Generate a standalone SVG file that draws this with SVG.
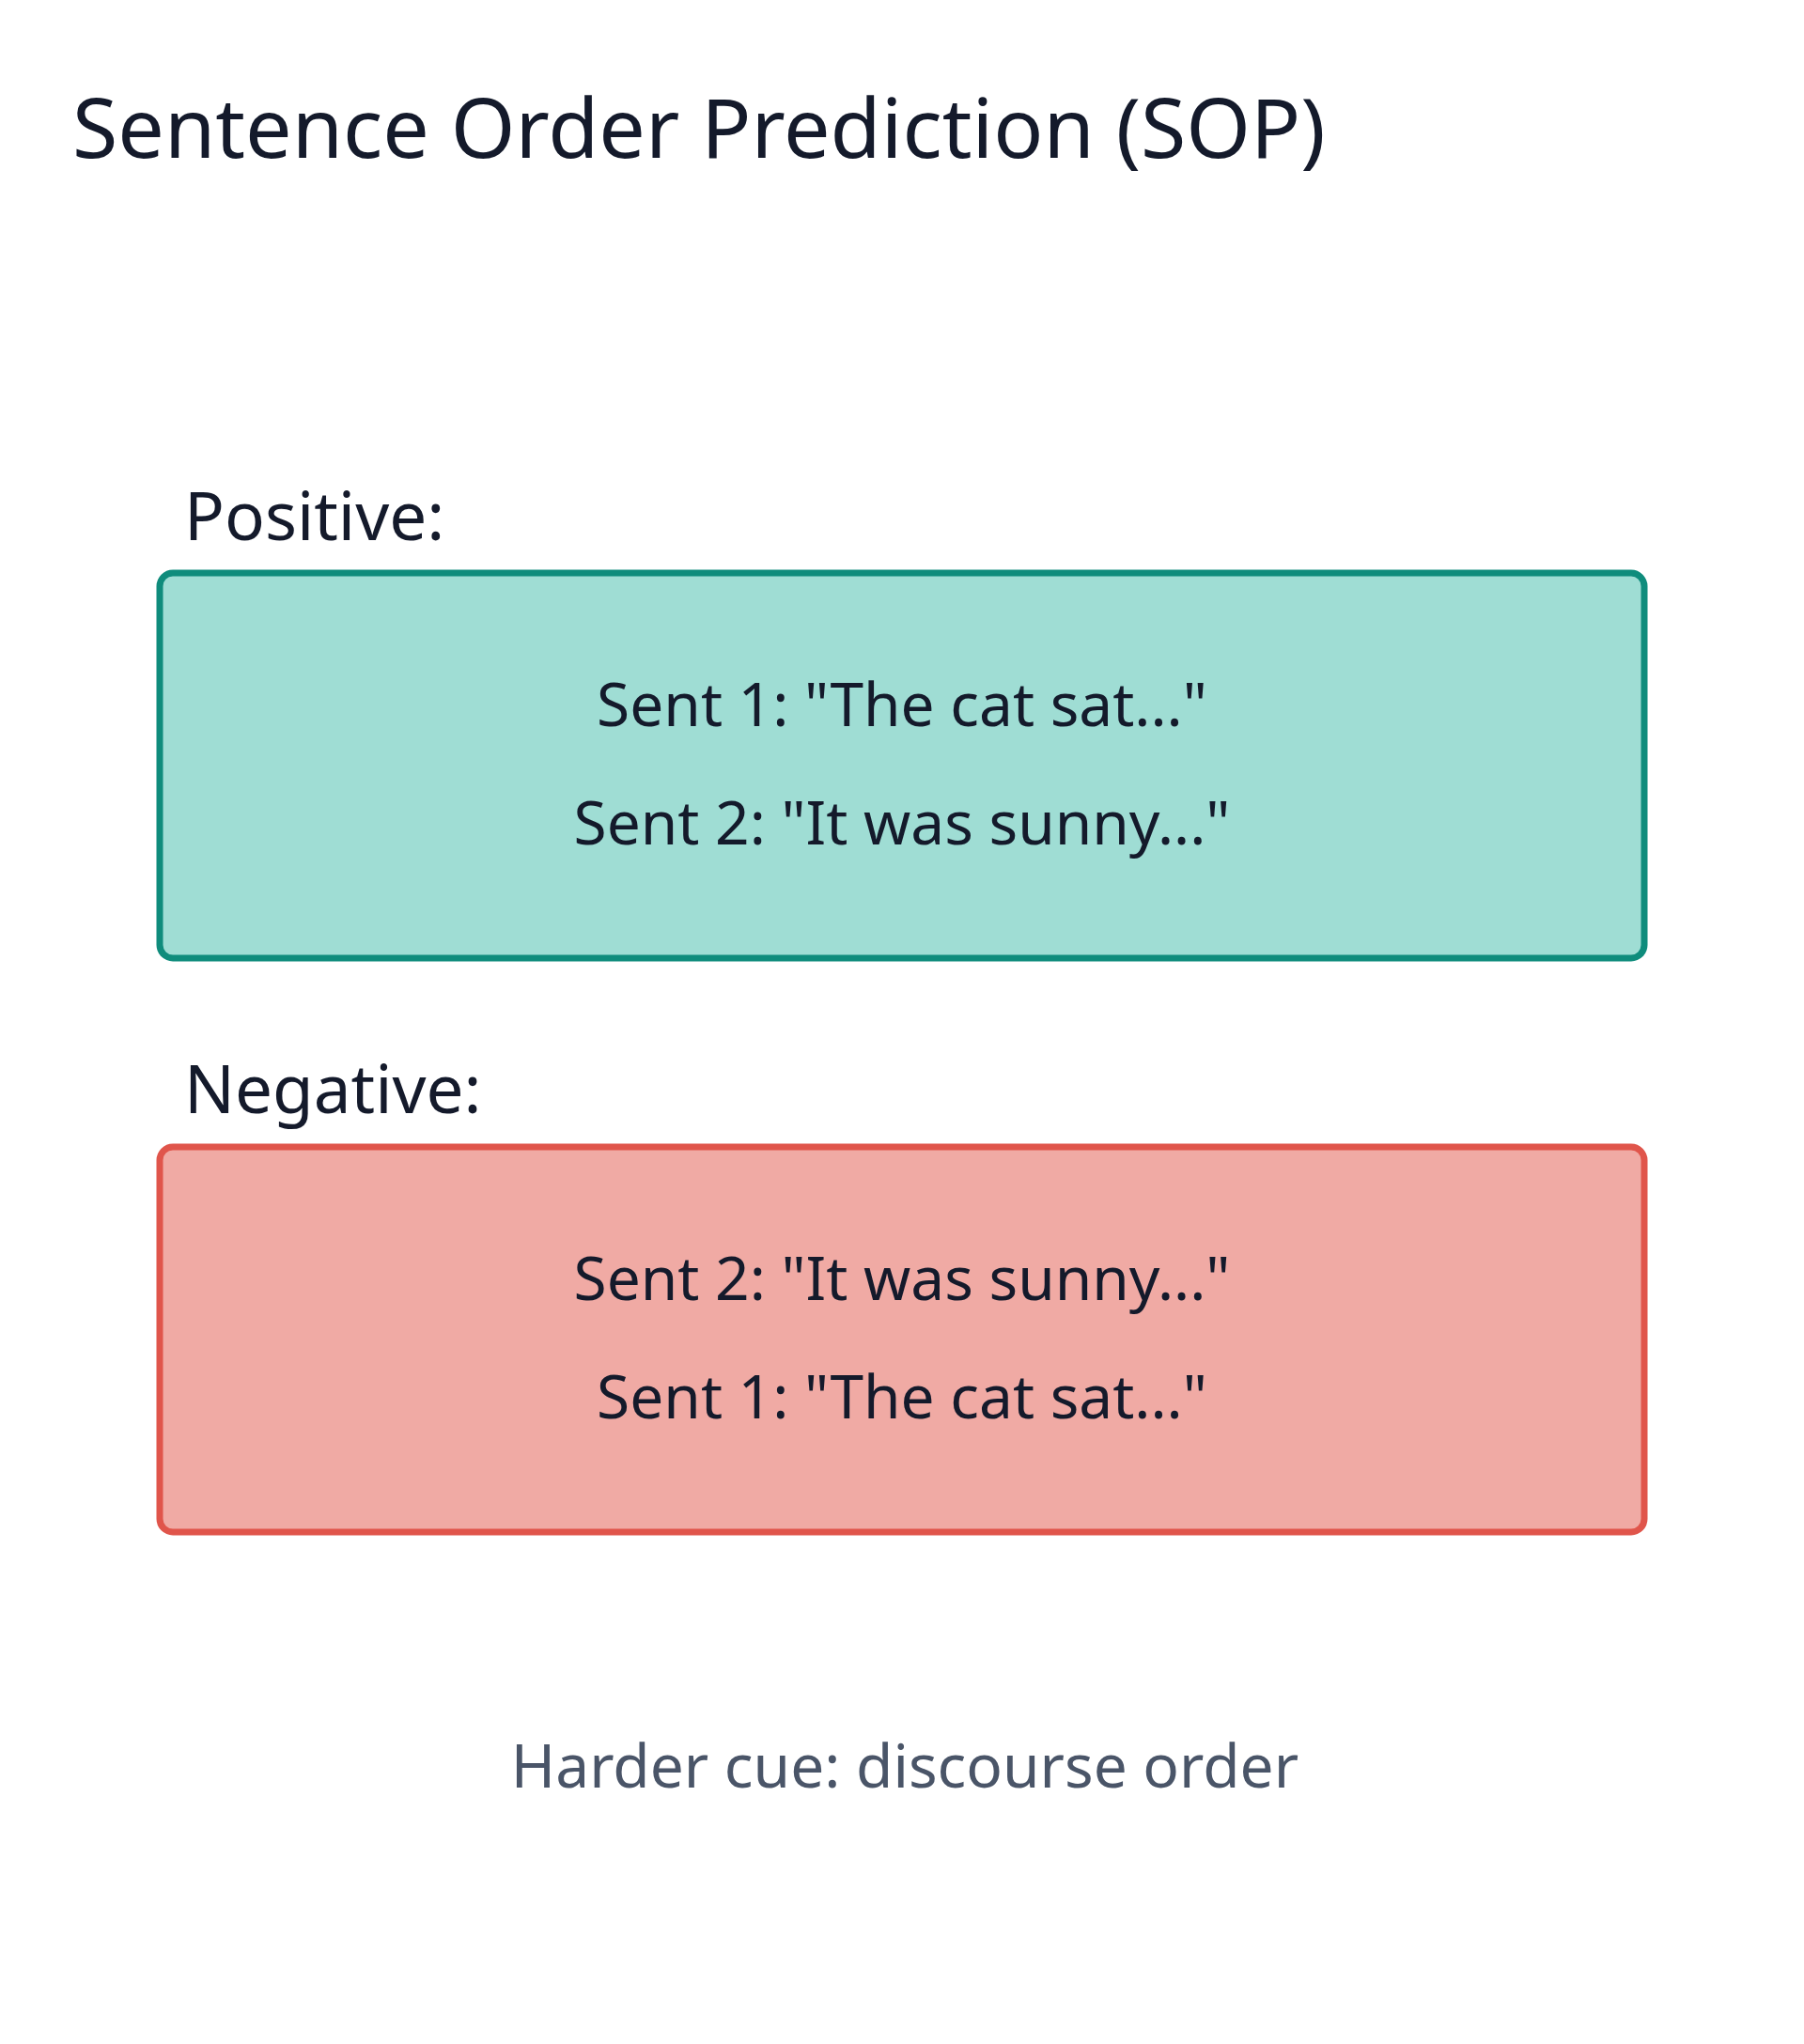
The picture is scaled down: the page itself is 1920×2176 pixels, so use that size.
<svg xmlns="http://www.w3.org/2000/svg" width="1920" height="2176" viewBox="0 0 1920 2176">
<style>
text{font-family:"Noto Sans","Open Sans","DejaVu Sans",sans-serif;fill:#141a2b}
.title{font-size:88px}
.label{font-size:71px}
.sent{font-size:64px;text-anchor:middle}
.foot{font-size:64px;text-anchor:middle;fill:#4a5568}
.pos{fill:#9fddd4;stroke:#0f8c7c;stroke-width:7}
.neg{fill:#f0aaa4;stroke:#e0554b;stroke-width:7}
</style>
<rect width="1920" height="2176" fill="#ffffff"/>
<g id="title"><text class="title" x="77" y="168">Sentence Order Prediction (SOP)</text></g>
<g id="positive">
<text class="label" x="196" y="575">Positive:</text>
<rect class="pos" x="170" y="610" width="1580" height="410" rx="14"/>
<text class="sent" x="960" y="773">Sent 1: "The cat sat..."</text>
<text class="sent" x="960" y="899">Sent 2: "It was sunny..."</text>
</g>
<g id="negative">
<text class="label" x="196" y="1185">Negative:</text>
<rect class="neg" x="170" y="1221" width="1580" height="410" rx="14"/>
<text class="sent" x="960" y="1384">Sent 2: "It was sunny..."</text>
<text class="sent" x="960" y="1510">Sent 1: "The cat sat..."</text>
</g>
<g id="connectors"></g>
<g id="footer"><text class="foot" x="963" y="1903">Harder cue: discourse order</text></g>
</svg>
